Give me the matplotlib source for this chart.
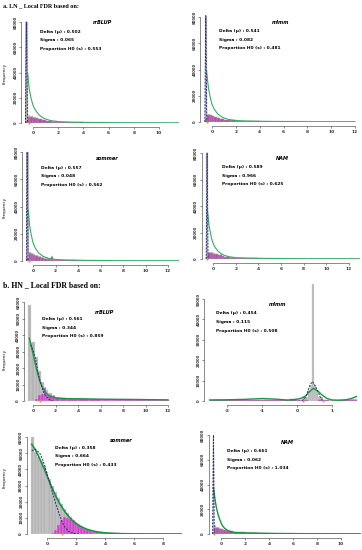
import matplotlib
matplotlib.use('Agg')
import matplotlib.pyplot as plt

W, H = 362, 550
fig = plt.figure(figsize=(W / 100, H / 100), dpi=100)

# ---------------- data ----------------
names = ['rrBLUP', 'mlmm', 'sommer', 'NAM']
delta_a = [0.502, 0.541, 0.557, 0.589]
sigma_a = [0.065, 0.082, 0.048, 0.966]
prop_a = [0.553, 0.481, 0.562, 0.625]
delta_b = [0.561, 0.454, 0.358, 0.661]
sigma_b = [0.344, 0.115, 0.664, 0.062]
prop_b = [0.859, 0.508, 0.433, 1.034]

# a1  LN rrBLUP
a1_edges = [-0.6, -0.4, -0.2, 0, 0.2, 0.4, 0.7, 1.0, 1.5, 2.0, 3.0, 4.0, 6.0, 8.0, 10.0, 11.6]
a1_gray = [80000, 6500, 5500, 4800, 4000, 3200, 2500, 1800, 1300, 900, 600, 450, 350, 300, 250]
a1_mag = [1500, 4800, 4800, 4300, 3600, 2800, 2100, 1500, 1000, 700, 400, 250, 150, 100, 80]
a1_gx = [-0.42, -0.3, -0.15, 0, 0.2, 0.5, 0.9, 1.4, 2.0, 3.0, 5.0, 8.0, 11.6]
a1_gy = [39000, 27000, 19500, 14000, 10000, 6200, 3500, 1900, 1100, 600, 350, 200, 150]
a1_dx = [-0.6, -0.56, -0.52, -0.48, -0.44]
a1_dy = [0, 45000, 80000, 45000, 0]
a1_or = [-0.35]

# a2  LN mlmm
a2_edges = [-0.6, -0.4, -0.2, 0, 0.2, 0.4, 0.7, 1.0, 1.5, 2.0, 3.0, 4.0, 6.0, 8.0, 10.0, 12.0]
a2_gray = [81000, 6000, 5500, 4800, 4000, 3300, 2600, 1900, 1400, 1000, 700, 500, 400, 300, 250]
a2_mag = [2000, 5300, 5000, 4400, 3700, 3000, 2300, 1700, 1200, 800, 500, 300, 180, 120, 90]
a2_gx = [-0.45, -0.3, -0.15, 0, 0.2, 0.5, 0.9, 1.4, 2.0, 3.0, 5.0, 8.0, 12.0]
a2_gy = [38500, 26000, 19000, 13500, 9500, 6000, 3400, 1900, 1100, 700, 400, 250, 200]
a2_dx = [-0.6, -0.56, -0.52, -0.48, -0.44]
a2_dy = [0, 45000, 81000, 45000, 0]
a2_or = [-0.4]

# a3  LN sommer
a3_edges = [-0.6, -0.4, -0.2, 0, 0.2, 0.4, 0.7, 1.0, 1.3, 1.6, 1.75, 2.0, 3.0, 4.0, 6.0, 8.0, 10.0, 13.0]
a3_gray = [80000, 6800, 6000, 5200, 4300, 3500, 2700, 2100, 1700, 3400, 1300, 900, 600, 450, 350, 300, 250]
a3_mag = [2000, 5600, 5400, 4700, 3900, 3100, 2400, 1800, 1400, 3200, 1100, 700, 400, 250, 150, 100, 80]
a3_gx = [-0.42, -0.3, -0.15, 0, 0.2, 0.5, 0.9, 1.4, 2.0, 3.0, 5.0, 8.0, 13.0]
a3_gy = [37500, 26000, 19000, 13500, 9500, 6000, 3400, 1900, 1100, 700, 400, 250, 200]
a3_dx = [-0.6, -0.56, -0.52, -0.48, -0.44]
a3_dy = [0, 45000, 80000, 45000, 0]
a3_or = [-0.33]

# a4  LN NAM
a4_edges = [-0.6, -0.4, -0.2, 0, 0.2, 0.4, 0.6, 0.8, 1.0, 1.5, 2.0, 3.0, 4.0, 6.0, 8.0, 10.0, 13.0]
a4_gray = [80000, 5500, 5000, 4400, 3800, 3200, 3400, 2200, 1800, 1300, 900, 600, 450, 350, 300, 250]
a4_mag = [1500, 4800, 4700, 4100, 3500, 2900, 3000, 1900, 1500, 1000, 700, 400, 250, 150, 100, 80]
a4_gx = [-0.5, -0.35, -0.2, -0.05, 0.15, 0.45, 0.85, 1.35, 2.0, 3.0, 5.0, 8.0, 13.0]
a4_gy = [37000, 25500, 18500, 13000, 9200, 5800, 3300, 1800, 1000, 650, 380, 240, 200]
a4_dx = [-0.6, -0.56, -0.52, -0.48, -0.44]
a4_dy = [0, 45000, 80000, 45000, 0]
a4_or = [-0.55]

# b1  HN rrBLUP
b1_edges = [-0.45, -0.15, 0.15, 0.45, 0.75, 0.97, 1.17, 1.35, 1.65, 1.95, 2.4, 3, 4, 5, 6, 7, 8, 9, 10, 11, 12.1]
b1_gray = [58000, 36000, 26500, 18000, 11500, 8200, 6500, 4800, 3500, 2600, 2100, 1800, 1600, 1400, 1300, 1200, 1100, 1000, 900, 800]
b1_mag = [0, 0, 1500, 3500, 4500, 8000, 4200, 3600, 2800, 2100, 1600, 1300, 1100, 1000, 900, 800, 700, 650, 600, 500]
b1_gx = [-0.33, -0.15, 0.03, 0.2, 0.33, 0.5, 0.62, 0.85, 1.07, 1.3, 1.51, 2.1, 3.0, 6.0, 9.0, 12.0]
b1_gy = [38000, 33000, 27900, 22500, 18800, 14500, 11700, 8200, 5600, 3900, 2800, 1800, 1400, 1100, 900, 700]
b1_dx = [-0.2, -0.12, 0.05, 0.18, 0.33, 0.47, 0.62, 0.77, 0.92, 1.07, 1.3, 1.51, 1.8]
b1_dy = [34000, 33300, 30000, 26800, 22000, 16800, 12500, 8700, 5800, 3600, 1800, 600, 0]
b1_or = [0.62]

# b2  HN mlmm
b2_edges = [-2.5, -2.0, -1.5, -1.0, -0.5, -0.2, 0.0, 0.15, 0.3, 0.36, 0.42, 0.48, 0.54, 0.6, 0.75, 0.9, 1.2, 1.5, 1.7]
b2_gray = [400, 500, 600, 700, 500, 900, 700, 2000, 5500, 8000, 57400, 8000, 5000, 2000, 600, 300, 400, 800]
b2_mag = [300, 300, 400, 500, 300, 800, 400, 300, 200, 0, 0, 0, 200, 300, 300, 200, 300, 700]
b2_gx = [-2.5, -2.0, -1.5, -1.0, -0.6, -0.3, -0.1, 0.1, 0.25, 0.35, 0.47, 0.6, 0.7, 0.85, 1.0, 1.2, 1.4, 1.55, 1.7]
b2_gy = [500, 600, 800, 1200, 900, 500, 600, 1200, 2500, 4500, 6200, 4800, 3200, 1300, 500, 400, 600, 1200, 2200]
b2_dx = [0.15, 0.25, 0.32, 0.38, 0.44, 0.5, 0.58, 0.66, 0.74]
b2_dy = [0, 2000, 5400, 8200, 9500, 8000, 5400, 2100, 0]
b2_or = [0.16, 0.73]

# b3  HN sommer
b3_edges = [-1.1, -0.9, -0.7, -0.5, -0.3, -0.1, 0.1, 0.3, 0.5, 0.7, 0.9, 1.1, 1.3, 1.5, 1.7, 1.9,
            2.1, 2.3, 2.5, 2.7, 2.9, 3.1, 3.3, 3.5, 3.7, 3.9, 4.1, 5.0, 6.0, 7.0, 8.0, 9.3]
b3_gray = [60000, 50500, 47500, 45000, 42000, 38500, 34000, 30000, 26000, 22000, 18500, 15500, 12800,
           10500, 8500, 6900, 5500, 4400, 3500, 2700, 2100, 1600, 1250, 950, 750, 600, 400, 250, 150, 100, 70]
b3_mag = [0, 0, 0, 0, 0, 0, 0, 600, 2500, 5500, 8500, 10300, 10200, 9200, 7900, 6500, 5300, 4300,
          3400, 2600, 2000, 1500, 1200, 900, 700, 550, 380, 230, 140, 90, 60]
b3_gx = [-1.05, -0.8, -0.6, -0.4, -0.2, 0.05, 0.3, 0.55, 0.8, 1.05, 1.3, 1.55, 1.8, 2.05, 2.3, 2.55, 2.8, 3.1, 3.4, 3.7, 4.0, 4.5, 5.0, 6.0, 7.0, 9.3]
b3_gy = [55500, 52000, 48500, 44500, 40500, 35000, 29500, 24500, 20000, 16300, 13000, 10300, 8000,
         6300, 4800, 3700, 2800, 2000, 1400, 1000, 700, 400, 200, 80, 40, 0]
b3_dx = [-1.05, -0.8, -0.5, -0.3, -0.15, 0.0, 0.2, 0.35, 0.5, 0.65, 0.8, 0.9, 1.0, 1.12, 1.25, 1.5, 1.8, 2.2]
b3_dy = [51500, 52400, 50000, 46000, 42000, 37000, 31500, 26500, 22000, 17500, 13500, 11000, 8500, 6000, 4000, 1500, 400, 0]
b3_or = [1.06]

# b4  HN NAM
b4_edges = [-0.7, -0.55, -0.4, -0.2, 0, 0.2, 0.4, 0.7, 1.0, 1.5, 2.0, 3.0, 4.0, 6.0, 8.0, 10.0, 11.6]
b4_gray = [80000, 7000, 5500, 4800, 4200, 3600, 3000, 2500, 2000, 1600, 1300, 900, 600, 400, 300, 250]
b4_mag = [1500, 5000, 4800, 4400, 3900, 3300, 2800, 2300, 1800, 1400, 1100, 700, 400, 250, 150, 100]
b4_gx = [-0.62, -0.5, -0.4, -0.25, -0.1, 0.1, 0.3, 0.6, 1.1, 2.0, 3.0, 5.0, 8.0, 11.6]
b4_gy = [37000, 28000, 22000, 16000, 11500, 7000, 4600, 2600, 1200, 800, 600, 350, 200, 150]
b4_dx = [-0.7, -0.665, -0.63, -0.595, -0.56]
b4_dy = [0, 45000, 80000, 45000, 0]
b4_or = [-0.56]

# ---------------- helpers ----------------
GRAY_FC = '#b4b4b4'
GRAY_EC = '#dcdcdc'
MAG_BRIGHT = ('#c945c4', '#e8a4e4')
MAG_DULL = ('#a8559f', '#c890c2')
GREEN_LIGHT = '#34b060'
GREEN_DARK = '#17963f'
DASH = '#2b2f7a'


def place(xa, pxa, xb, pxb, ya, pya, yb, pyb, xlim, ylim):
    sx = (pxb - pxa) / (xb - xa)
    sy = (pyb - pya) / (yb - ya)
    left = pxa + (xlim[0] - xa) * sx
    right = pxa + (xlim[1] - xa) * sx
    bottom = pya + (ylim[0] - ya) * sy
    top = pya + (ylim[1] - ya) * sy
    ax = fig.add_axes([left / W, 1 - bottom / H, (right - left) / W, (bottom - top) / H])
    ax.set_xlim(xlim)
    ax.set_ylim(ylim)
    ax.patch.set_alpha(0)
    return ax


def draw(ax, edges, gray, mag, gx, gy, dx, dy, orx, xticks, yticks, mag_col=MAG_BRIGHT,
         green=GREEN_DARK, glw=1.0):
    lefts = edges[:-1]
    widths = [b - a for a, b in zip(edges[:-1], edges[1:])]
    ax.bar(lefts, gray, width=widths, align='edge', color=GRAY_FC, edgecolor=GRAY_EC, linewidth=0.3, zorder=1)
    ax.bar(lefts, mag, width=widths, align='edge', color=mag_col[0], edgecolor=mag_col[1], linewidth=0.3, zorder=2)
    ax.plot(dx, dy, color=DASH, lw=0.7, ls=(0, (2.0, 1.3)), zorder=4)
    ax.plot(gx, gy, color=green, lw=glw, zorder=3, solid_joinstyle='round')
    ax.plot(orx, [0] * len(orx), 'o', color='#f39c12', ms=1.6, mew=0, zorder=5, clip_on=False)
    for s in ('top', 'right'):
        ax.spines[s].set_visible(False)
    ax.spines['left'].set_position(('outward', 2.5))
    ax.spines['bottom'].set_position(('outward', 3.0))
    ax.spines['left'].set_bounds(yticks[0], yticks[-1])
    ax.spines['bottom'].set_bounds(xticks[0], xticks[-1])
    for s in ('left', 'bottom'):
        ax.spines[s].set_linewidth(0.4)
        ax.spines[s].set_color('#333333')
    ax.set_xticks(xticks)
    ax.set_yticks(yticks)
    ax.set_xticklabels([str(t) for t in xticks], fontsize=3.2, fontweight='bold')
    ax.set_yticklabels([str(t) for t in yticks], fontsize=2.8, fontweight='bold',
                       rotation=90, va='center')
    ax.tick_params(length=1.4, width=0.4, pad=1.2, colors='#333333')


def ptext(x, y, s, **kw):
    fig.text(x / W, 1 - y / H, s, **kw)


def stats(x, y0, dy, d, s, p, name, nx, ny):
    kw = dict(fontsize=3.2, fontweight='bold', va='center', ha='left', family='DejaVu Sans')
    ptext(x, y0, f'Delta (\u03bc) : {d:.3f}', **kw)
    ptext(x, y0 + dy, f'Sigma : {s:.3f}', **kw)
    ptext(x, y0 + 2 * dy, f'Proportion H0 (s) : {p:.3f}', **kw)
    ptext(nx, ny, name, fontsize=3.6, fontweight='bold', style='italic', va='center', ha='center')


def freq(x, y):
    ptext(x, y, 'Frequency', fontsize=2.9, rotation=90, va='center', ha='center')


yt80 = [0, 20000, 40000, 60000, 80000]

# ---------------- panels ----------------
ptext(3, 6, 'a. LN _ Local FDR based on:', fontsize=4.4, fontweight='bold',
      family='Liberation Serif', va='center', ha='left')
ptext(3, 285, 'b. HN _ Local FDR based on:', fontsize=5.6, fontweight='bold',
      family='Liberation Serif', va='center', ha='left')

ax = place(0, 33, 10, 159, 0, 123, 80000, 22, (-0.65, 11.6), (0, 83000))
draw(ax, a1_edges, a1_gray, a1_mag, a1_gx, a1_gy, a1_dx, a1_dy, a1_or, [0, 2, 4, 6, 8, 10], yt80,
     MAG_DULL, GREEN_LIGHT, 0.8)
stats(40, 32, 8.5, delta_a[0], sigma_a[0], prop_a[0], names[0], 102, 23)
freq(5, 73)

ax = place(0, 212, 12, 355, 0, 122, 80000, 17, (-0.7, 12.1), (0, 83000))
draw(ax, a2_edges, a2_gray, a2_mag, a2_gx, a2_gy, a2_dx, a2_dy, a2_or, [0, 2, 4, 6, 8, 10, 12], yt80,
     MAG_DULL, GREEN_LIGHT, 0.8)
stats(219, 31, 8.5, delta_a[1], sigma_a[1], prop_a[1], names[1], 281, 23)

ax = place(0, 33, 12, 168, 0, 261, 80000, 152, (-0.65, 13.0), (0, 82000))
draw(ax, a3_edges, a3_gray, a3_mag, a3_gx, a3_gy, a3_dx, a3_dy, a3_or, [0, 2, 4, 6, 8, 10, 12], yt80,
     MAG_DULL, GREEN_LIGHT, 0.8)
stats(41, 168, 8.5, delta_a[2], sigma_a[2], prop_a[2], names[2], 107, 159)
freq(5, 208)

ax = place(0, 213, 12, 349, 0, 259, 80000, 153, (-0.7, 13.0), (0, 82000))
draw(ax, a4_edges, a4_gray, a4_mag, a4_gx, a4_gy, a4_dx, a4_dy, a4_or, [0, 2, 4, 6, 8, 10, 12], yt80,
     MAG_DULL, GREEN_LIGHT, 0.8)
stats(222, 167, 8.5, delta_a[3], sigma_a[3], prop_a[3], names[3], 282, 159)

ax = place(0, 33, 12, 168, 0, 401, 60000, 302, (-0.5, 12.2), (0, 61000))
draw(ax, b1_edges, b1_gray, b1_mag, b1_gx, b1_gy, b1_dx, b1_dy, b1_or, [0, 2, 4, 6, 8, 10, 12],
     [0, 10000, 20000, 30000, 40000, 50000, 60000])
stats(42, 319, 8.5, delta_b[0], sigma_b[0], prop_b[0], names[0], 104, 312)
freq(5, 360)

ax = place(-2, 227, 1, 332, 0, 401, 50000, 299, (-2.55, 1.72), (0, 59000))
draw(ax, b2_edges, b2_gray, b2_mag, b2_gx, b2_gy, b2_dx, b2_dy, b2_or, [-2, -1, 0, 1],
     [0, 10000, 20000, 30000, 40000, 50000], MAG_DULL)
stats(216, 313, 9, delta_b[1], sigma_b[1], prop_b[1], names[1], 278, 304)

ax = place(0, 47, 8, 163, 0, 534, 60000, 437, (-1.15, 9.3), (0, 62000))
draw(ax, b3_edges, b3_gray, b3_mag, b3_gx, b3_gy, b3_dx, b3_dy, b3_or, [0, 2, 4, 6, 8],
     [0, 10000, 20000, 30000, 40000, 50000, 60000], glw=1.2)
stats(55, 448, 8.5, delta_b[2], sigma_b[2], prop_b[2], names[2], 121, 440)
freq(5, 477)

ax = place(0, 221, 10, 341, 0, 534, 80000, 435, (-0.75, 11.7), (0, 82000))
draw(ax, b4_edges, b4_gray, b4_mag, b4_gx, b4_gy, b4_dx, b4_dy, b4_or, [0, 2, 4, 6, 8, 10], yt80,
     MAG_DULL)
stats(227, 451, 8.5, delta_b[3], sigma_b[3], prop_b[3], names[3], 287, 442)

fig.savefig('out.png', dpi=100)
